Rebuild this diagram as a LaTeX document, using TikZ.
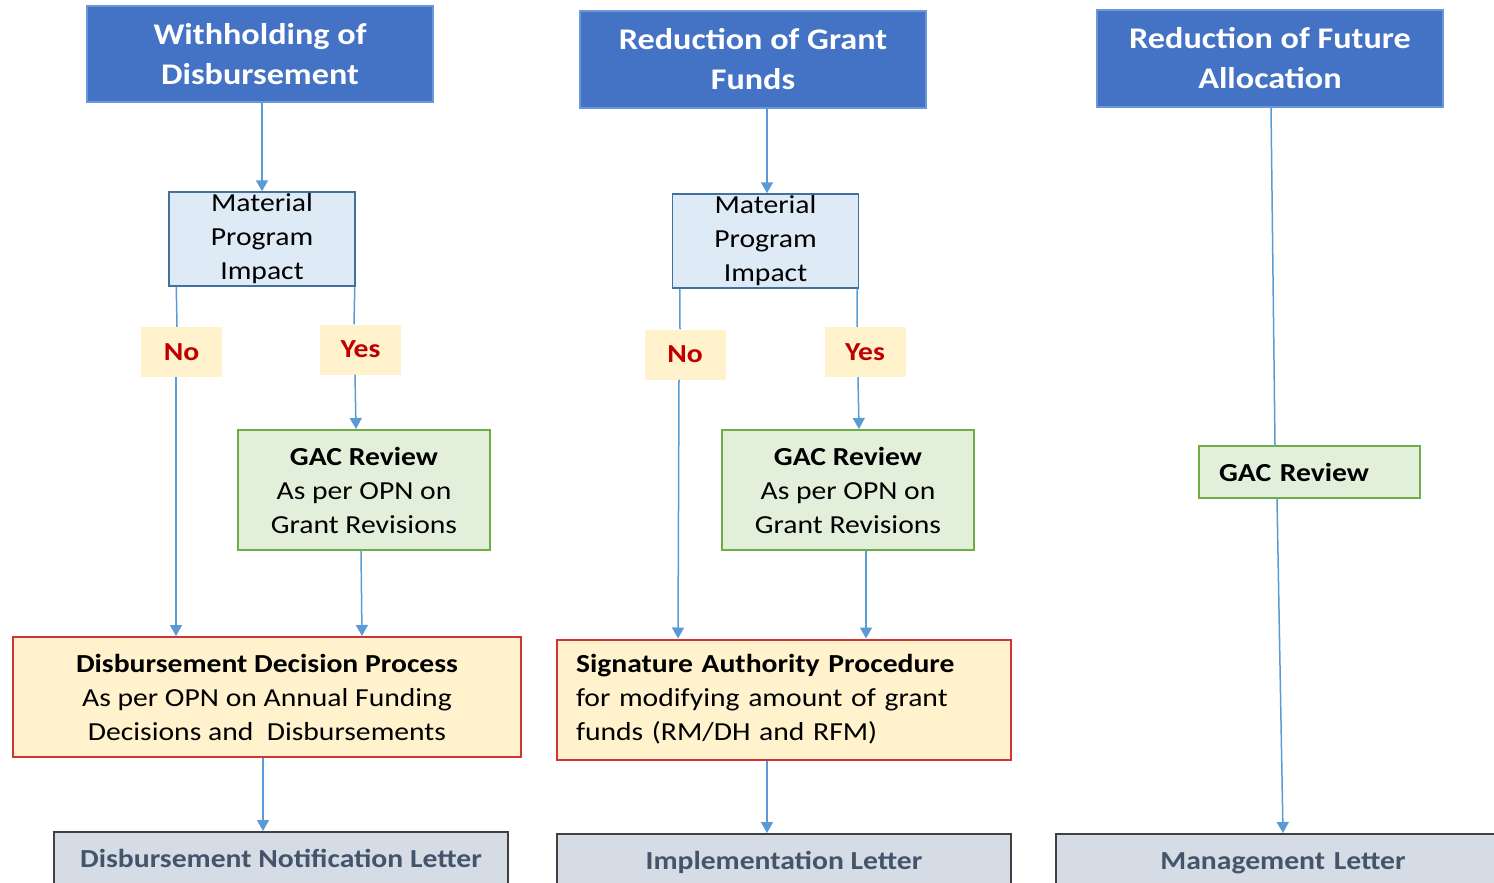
\documentclass[tikz,border=0pt]{standalone}
\usepackage{fontspec}
\setmainfont{Carlito}[FakeStretch=1.14]
\usetikzlibrary{arrows.meta}
\definecolor{titlefill}{HTML}{4472C4}
\definecolor{titledraw}{HTML}{6A98D8}
\definecolor{mpifill}{HTML}{DEEAF6}
\definecolor{mpidraw}{HTML}{41719C}
\definecolor{ynfill}{HTML}{FFF2CC}
\definecolor{yntext}{HTML}{C00000}
\definecolor{gacfill}{HTML}{E2EFDA}
\definecolor{gacdraw}{HTML}{70AD47}
\definecolor{procdraw}{HTML}{D03434}
\definecolor{letfill}{HTML}{D6DCE5}
\definecolor{letdraw}{HTML}{404040}
\definecolor{lettext}{HTML}{44546A}
\definecolor{arrowc}{HTML}{5B9BD5}
\tikzset{
  titlebox/.style={draw=titledraw, line width=2pt, fill=titlefill, text=white, font=\fontsize{30}{40}\selectfont\bfseries, align=center, minimum width=346, minimum height=96, inner sep=0},
  mpibox/.style={draw=mpidraw, line width=1.5pt, fill=mpifill, font=\fontsize{26}{34}\selectfont, align=center, minimum width=186, minimum height=94, inner sep=0},
  ynbox/.style={fill=ynfill, text=yntext, font=\fontsize{26}{34}\selectfont\bfseries, minimum width=81, minimum height=50, inner sep=0},
  gacbox/.style={draw=gacdraw, line width=2pt, fill=gacfill, font=\fontsize{26}{34}\selectfont, align=center, minimum width=252, minimum height=120, inner sep=0},
  procbox/.style={draw=procdraw, line width=2pt, fill=ynfill, font=\fontsize{26}{34}\selectfont, minimum height=120, inner sep=0},
  letterbox/.style={draw=letdraw, line width=2pt, fill=letfill, text=lettext, font=\fontsize{26}{34}\selectfont\bfseries, anchor=north, inner ysep=0, text height=35pt, text depth=50pt},
  conn/.style={draw=arrowc, line width=1.5pt},
  arr/.style={conn, -{Triangle[length=11pt,width=12pt]}}
}
\begin{document}
\begin{tikzpicture}[x=1pt,y=-1pt]
\useasboundingbox (0,0) rectangle (1494,883);
% titles
\node[titlebox] (t1) at (260,54) {Withholding of\\Disbursement};
\node[titlebox] (t2) at (753,59.5) {Reduction of Grant\\Funds};
\node[titlebox] (t3) at (1270,58.5) {Reduction of Future\\Allocation};
% material program impact
\node[mpibox] (m1) at (262,239) {Material\\Program\\Impact};
\node[mpibox] (m2) at (765.5,241) {Material\\Program\\Impact};
% yes / no
\node[ynbox] (n1) at (181.5,352) {No};
\node[ynbox] (y1) at (360.5,349.5) {Yes};
\node[ynbox] (n2) at (685,354.5) {No};
\node[ynbox] (y2) at (865,352) {Yes};
% GAC
\node[gacbox] (g1) at (364,490) {\textbf{GAC Review}\\As per OPN on\\Grant Revisions};
\node[gacbox] (g2) at (848,490) {\textbf{GAC Review}\\As per OPN on\\Grant Revisions};
\node[gacbox, minimum width=221, minimum height=52, inner xsep=20, text width=181, align=left] (g3) at (1309.5,472) {\textbf{GAC Review}};
% process boxes
\node[procbox, minimum width=508, align=center] (p1) at (267,697) {\textbf{Disbursement Decision Process}\\As per OPN on Annual Funding\\Decisions and\ \ Disbursements};
\node[procbox, minimum width=454, inner xsep=19, text width=416, align=left] (p2) at (784,699.5) {\textbf{Signature Authority Procedure}\\for modifying amount of grant\\funds (RM/DH and RFM)};
% letters
\node[letterbox, minimum width=454] (l1) at (281,831) {Disbursement Notification Letter};
\node[letterbox, minimum width=454] (l2) at (784,833) {Implementation Letter};
\node[letterbox, minimum width=460, text width=440, align=center, inner xsep=10] (l3) at (1286,833) {\hspace*{-6pt}Management Letter};
% connectors column 1
\draw[arr] (t1.south -| 262,0) -- (m1.north);
\draw[conn] ([xshift=8]m1.south west) -- (n1.north -| 177,0);
\draw[arr] (n1.south -| 176,0) -- (p1.north -| 176,0);
\draw[conn] ([xshift=-1]m1.south east) -- (y1.north -| 354,0);
\draw[arr] (y1.south -| 355,0) -- (g1.north -| 356,0);
\draw[arr] (g1.south -| 361,0) -- (p1.north -| 362,0);
\draw[arr] (p1.south -| 263,0) -- (l1.north -| 263,0);
% connectors column 2
\draw[arr] (t2.south -| 767,0) -- (m2.north -| 767,0);
\draw[conn] ([xshift=8]m2.south west) -- (n2.north -| 680,0);
\draw[arr] (n2.south -| 679,0) -- (p2.north -| 678,0);
\draw[conn] ([xshift=-2]m2.south east) -- (y2.north -| 857,0);
\draw[arr] (y2.south -| 858,0) -- (g2.north -| 859,0);
\draw[arr] (g2.south -| 866,0) -- (p2.north -| 866,0);
\draw[arr] (p2.south -| 767,0) -- (l2.north -| 767,0);
% connectors column 3
\draw[conn] (t3.south -| 1271,0) -- (g3.north -| 1275,0);
\draw[arr] (g3.south -| 1277,0) -- (l3.north -| 1283,0);
\end{tikzpicture}
\end{document}
